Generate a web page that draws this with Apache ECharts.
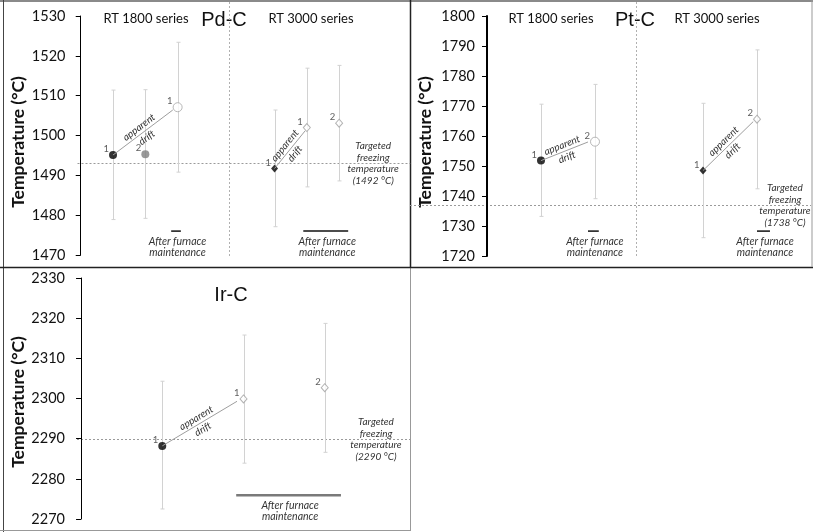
<!DOCTYPE html>
<html><head><meta charset="utf-8">
<script src="https://cdn.jsdelivr.net/npm/echarts@6/dist/echarts.min.js"></script>
<style>html,body{margin:0;padding:0;background:#fff}#c{width:813px;height:532px}</style>
</head><body><div id="c"></div>
<script>
// ---------- Pd-C ----------
const pdX = [1, 2, 3, 6, 7, 8];
const pdTemp = [1495.1, 1495.3, 1507.1, 1491.7, 1502.0, 1503.1];
const pdLow = [1478.9, 1479.2, 1490.8, 1477.1, 1487.1, 1488.6];
const pdHigh = [1511.4, 1511.5, 1523.4, 1506.4, 1516.9, 1517.6];
const pdRun = ['1', '2', '1', '1', '1', '2'];
const pdKind = ['before', 'before2', 'after', 'beforeD', 'afterD', 'afterD'];
const pdTarget = 1493;
const pdTargetLabel = '(1492 °C)';
const pdDrift = [[1, 1495.1, 2.85, 1506.4], [6, 1491.7, 6.95, 1501.2]];
const pdMaint = [[2.8, 3.1, 1476], [6.89, 8.28, 1476]];
const pdTicks = [1470, 1480, 1490, 1500, 1510, 1520, 1530];

// ---------- Pt-C ----------
const ptX = [1, 2, 4, 5];
const ptTemp = [1751.8, 1758.1, 1748.5, 1765.6];
const ptLow = [1733.2, 1739.1, 1726.1, 1742.4];
const ptHigh = [1770.6, 1777.2, 1770.9, 1788.7];
const ptRun = ['1', '2', '1', '2'];
const ptKind = ['before', 'after', 'beforeD', 'afterD'];
const ptTarget = 1737;
const ptTargetLabel = '(1738 °C)';
const ptDrift = [[1, 1751.8, 1.87, 1758.0], [4, 1748.5, 4.93, 1764.8]];
const ptMaint = [[1.87, 2.07, 1728.3], [5.0, 5.24, 1728.3]];
const ptTicks = [1720, 1730, 1740, 1750, 1760, 1770, 1780, 1790, 1800];

// ---------- Ir-C ----------
const irX = [1, 2, 3];
const irTemp = [2288.2, 2299.9, 2302.7];
const irLow = [2272.5, 2283.9, 2286.6];
const irHigh = [2304.3, 2315.8, 2318.7];
const irRun = ['1', '1', '2'];
const irKind = ['before', 'afterD', 'afterD'];
const irTarget = 2290;
const irTargetLabel = '(2290 °C)';
const irDrift = [[1, 2288.2, 1.92, 2299.3]];
const irMaint = [[1.91, 3.2, 2275.9]];
const irTicks = [2270, 2280, 2290, 2300, 2310, 2320, 2330];

const seriesNames = ['RT 1800 series', 'RT 3000 series'];
const panelTitles = ['Pd-C', 'Pt-C', 'Ir-C'];
const yTitle = 'Temperature (°C)';

const markerStyles = {
  before:  { symbol: 'circle', symbolSize: 8, itemStyle: { color: '#000' } },
  before2: { symbol: 'circle', symbolSize: 8, itemStyle: { color: '#7f7f7f' } },
  after:   { symbol: 'circle', symbolSize: 9, itemStyle: { color: '#fff', borderColor: '#a6a6a6', borderWidth: 1 } },
  beforeD: { symbol: 'diamond', symbolSize: [7, 8], itemStyle: { color: '#000' } },
  afterD:  { symbol: 'diamond', symbolSize: [7, 8], itemStyle: { color: '#fff', borderColor: '#a0a0a0', borderWidth: 1 } }
};

const panels = [
  { x: pdX, t: pdTemp, lo: pdLow, hi: pdHigh, run: pdRun, kind: pdKind, target: pdTarget, tLabel: pdTargetLabel,
    drift: pdDrift, maint: pdMaint, ticks: pdTicks,
    grid: { left: 77.5, top: 16, width: 332.7, height: 239 }, xMin: -0.1, xMax: 10.2,
    divider: 4.59, targetExtLeft: 0, targetTextOff: 37, maintColor: '#111', maintWidth: 1.5, axisWidth: 1 },
  { x: ptX, t: ptTemp, lo: ptLow, hi: ptHigh, run: ptRun, kind: ptKind, target: ptTarget, tLabel: ptTargetLabel,
    drift: ptDrift, maint: ptMaint, ticks: ptTicks,
    grid: { left: 487, top: 16, width: 324, height: 240 }, xMin: 0, xMax: 6,
    divider: 2.76, targetExtLeft: 77, targetTextOff: 26, maintColor: '#111', maintWidth: 1.5, axisWidth: 2 },
  { x: irX, t: irTemp, lo: irLow, hi: irHigh, run: irRun, kind: irKind, target: irTarget, tLabel: irTargetLabel,
    drift: irDrift, maint: irMaint, ticks: irTicks,
    grid: { left: 77, top: 278, width: 333, height: 241 }, xMin: -0.05, xMax: 4.05,
    divider: null, targetExtLeft: 0, targetTextOff: 34, maintColor: '#7a7a7a', maintWidth: 2.5, axisWidth: 1 }
];

const LABEL_FONT = 'Lato, "Open Sans", sans-serif';

const grids = [], xAxes = [], yAxes = [], series = [];
panels.forEach((p, i) => {
  grids.push(Object.assign({ containLabel: false }, p.grid));
  xAxes.push({ type: 'value', gridIndex: i, min: p.xMin, max: p.xMax, show: false });
  yAxes.push({
    type: 'value', gridIndex: i, min: p.ticks[0], max: p.ticks[p.ticks.length - 1], interval: 10,
    axisLine: { show: true, lineStyle: { color: '#000', width: p.axisWidth } },
    axisTick: { show: true, inside: false, length: 5, lineStyle: { color: '#000' } },
    axisLabel: { margin: 12, fontSize: 14.5, color: '#111', fontFamily: LABEL_FONT, formatter: (v) => String(v) },
    splitLine: { show: false }
  });
  // error bars
  series.push({
    type: 'custom', xAxisIndex: i, yAxisIndex: i, silent: true, z: 1,
    data: p.x.map((x, k) => [x, p.lo[k], p.hi[k]]),
    encode: { x: 0, y: [1, 2] },
    renderItem: (params, api) => {
      const x = api.value(0);
      const a = api.coord([x, api.value(1)]), b = api.coord([x, api.value(2)]);
      const cx = Math.round(a[0]) + 0.5;
      const st = { stroke: '#d2d2d2', lineWidth: 1 };
      return { type: 'group', children: [
        { type: 'line', shape: { x1: cx, y1: a[1], x2: cx, y2: b[1] }, style: st },
        { type: 'line', shape: { x1: cx - 2, y1: a[1], x2: cx + 2, y2: a[1] }, style: st },
        { type: 'line', shape: { x1: cx - 2, y1: b[1], x2: cx + 2, y2: b[1] }, style: st }
      ] };
    }
  });
  // annotations: target line, divider, maintenance bars and texts
  series.push({
    type: 'custom', xAxisIndex: i, yAxisIndex: i, silent: true, z: 0, clip: false,
    data: [[p.x[0], p.target]],
    encode: { x: 0, y: 1 },
    renderItem: (params, api) => {
      const cs = params.coordSys;
      const ty = Math.round(api.coord([0, api.value(1)])[1]) + 0.5;
      const ch = [];
      ch.push({ type: 'line', shape: { x1: cs.x - p.targetExtLeft, y1: ty, x2: cs.x + cs.width, y2: ty },
        style: { stroke: '#9a9a9a', lineWidth: 1, lineDash: [2, 2] } });
      ch.push({ type: 'text', x: cs.x + cs.width - p.targetTextOff, y: ty,
        style: { text: 'Targeted\nfreezing\ntemperature\n' + p.tLabel, align: 'center', verticalAlign: 'middle',
          textAlign: 'center', textVerticalAlign: 'middle', lineHeight: 11.5,
          font: 'italic 10px ' + LABEL_FONT, fill: '#333' } });
      if (p.divider !== null) {
        const dx = Math.round(api.coord([p.divider, p.ticks[0]])[0]) + 0.5;
        ch.push({ type: 'line', shape: { x1: dx, y1: 2, x2: dx, y2: cs.y + cs.height + 2 },
          style: { stroke: '#b0b0b0', lineWidth: 1, lineDash: [2, 2] } });
      }
      p.maint.forEach(m => {
        const a = api.coord([m[0], m[2]]), b = api.coord([m[1], m[2]]);
        ch.push({ type: 'line', shape: { x1: a[0], y1: a[1], x2: b[0], y2: b[1] },
          style: { stroke: p.maintColor, lineWidth: p.maintWidth } });
        ch.push({ type: 'text', x: (a[0] + b[0]) / 2 + 1.5, y: a[1] + 5,
          style: { text: 'After furnace\nmaintenance', align: 'center', verticalAlign: 'top',
            textAlign: 'center', textVerticalAlign: 'top', lineHeight: 11,
            font: 'italic 10.5px ' + LABEL_FONT, fill: '#333' } });
      });
      return { type: 'group', children: ch };
    }
  });
  // points
  series.push({
    type: 'scatter', xAxisIndex: i, yAxisIndex: i, z: 3,
    data: p.x.map((x, k) => Object.assign({ value: [x, p.t[k]] }, markerStyles[p.kind[k]])),
    label: { show: true, position: 'left', distance: 0, offset: [0, -6], fontSize: 9.5, color: '#333',
      fontFamily: LABEL_FONT, formatter: (d) => p.run[d.dataIndex] },
    markLine: {
      silent: true, symbol: ['none', 'arrow'], symbolSize: [0, 6], precision: 3,
      lineStyle: { color: '#9e9e9e', width: 1, type: 'solid' },
      label: { show: true, position: 'middle', formatter: 'apparent\ndrift', fontStyle: 'italic', fontSize: 10,
        color: '#333', fontFamily: LABEL_FONT, verticalAlign: 'middle', distance: 0, lineHeight: 13 },
      data: p.drift.map(d => [{ coord: [d[0], d[1]] }, { coord: [d[2], d[3]] }])
    }
  });
});

const txt = (text, x, y, font, extra) => Object.assign({
  type: 'text', x, y, silent: true,
  style: { text, font, fill: '#111', align: 'center', verticalAlign: 'middle', textAlign: 'center', textVerticalAlign: 'middle' }
}, extra || {});
const ln = (x1, y1, x2, y2, color, w) => ({ type: 'line', silent: true,
  shape: { x1, y1, x2, y2 }, style: { stroke: color, lineWidth: w } });

const graphic = [
  // panel borders
  ln(0, 1, 813, 1, '#8a8a8a', 2),
  ln(3.5, 0, 3.5, 532, '#444', 1),
  ln(410.5, 0, 410.5, 267, '#222', 1.5),
  ln(410.5, 267, 410.5, 531, '#999', 1),
  ln(0, 267.5, 813, 267.5, '#222', 1.5),
  ln(0, 530.5, 411, 530.5, '#999', 1),
  ln(812, 0, 812, 267, '#999', 1),
  // titles
  txt(panelTitles[0], 224, 20, '20px "Liberation Sans", Arial, sans-serif'),
  txt(panelTitles[1], 635, 20, '20px "Liberation Sans", Arial, sans-serif'),
  txt(panelTitles[2], 231, 295, '20px "Liberation Sans", Arial, sans-serif'),
  txt(seriesNames[0], 146, 19, '13px ' + LABEL_FONT),
  txt(seriesNames[1], 311, 19, '13px ' + LABEL_FONT),
  txt(seriesNames[0], 551, 19, '13px ' + LABEL_FONT),
  txt(seriesNames[1], 717, 19, '13px ' + LABEL_FONT),
  // y titles
  txt(yTitle, 18.5, 142, 'bold 17.5px ' + LABEL_FONT, { rotation: Math.PI / 2 }),
  txt(yTitle, 425, 142, 'bold 17.5px ' + LABEL_FONT, { rotation: Math.PI / 2 }),
  txt(yTitle, 18.5, 402, 'bold 17.5px ' + LABEL_FONT, { rotation: Math.PI / 2 })
];

const chart = echarts.init(document.getElementById('c'));
chart.setOption({
  animation: false,
  backgroundColor: '#fff',
  grid: grids, xAxis: xAxes, yAxis: yAxes, series: series, graphic: graphic
});
</script></body></html>
